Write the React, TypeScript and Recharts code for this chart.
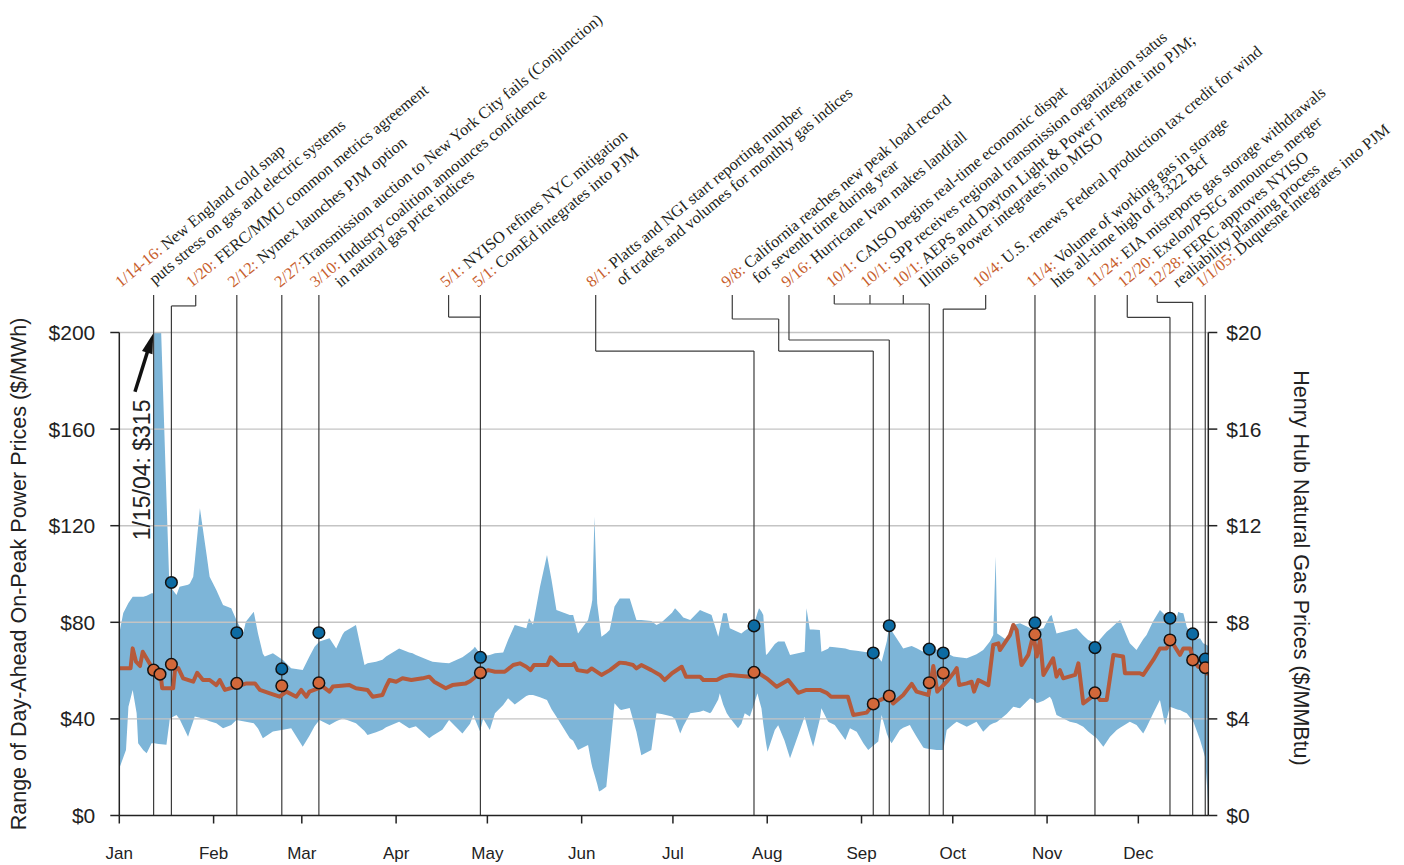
import React from 'react';
import {
  ComposedChart,
  Area,
  Line,
  Scatter,
  XAxis,
  YAxis,
  ReferenceLine,
  ReferenceDot,
} from 'recharts';

// ---------- axes ----------
const MONTHS = ['Jan', 'Feb', 'Mar', 'Apr', 'May', 'Jun', 'Jul', 'Aug', 'Sep', 'Oct', 'Nov', 'Dec'];
const MONTH_START_DAYS = [0, 31, 60, 91, 121, 152, 182, 213, 244, 274, 305, 335];
const POWER_TICKS = [0, 40, 80, 120, 160, 200];
const GAS_TICKS = [0, 4, 8, 12, 16, 20];

// ---------- range of day-ahead on-peak power prices ($/MWh), x = day of 2004 ----------
const BAND_DAYS = [
  0, 1.3, 2.2, 3, 4.4, 5.7, 6.2, 7.9, 9, 10.6, 11.3, 11.6, 12.4, 13, 15.5, 16.4, 16.6, 18.8, 19.8, 22.6,
  23.2, 24.3, 24.8, 26.5, 28.7, 29.7, 31.9, 34.1, 36.8, 38.5, 40.7, 41.6, 44.2, 45.6, 47.2, 47.8, 50.5, 53.8, 56.5, 60.3,
  62.5, 64.2, 65.8, 69.1, 71.3, 73.4, 74, 77.8, 80.6, 81.6, 84.4, 86.5, 87.7, 92, 95.3, 96.4, 97.5, 101.9, 103, 106.2,
  108.4, 112.8, 115.3, 116.4, 116.9, 118.6, 119.6, 121.8, 123.5, 126.2, 127.8, 130, 133.8, 134.7, 136, 138.3, 140.6, 142.1, 143.7, 148.1,
  149.2, 150.8, 154.1, 155.2, 155.5, 156.2, 157.1, 157.7, 158.5, 160.1, 161.2, 162.8, 164.5, 165, 167.8, 170, 171.6, 174.9, 176.6, 178.3,
  181.7, 182.7, 184.4, 185.4, 187.7, 190.9, 192, 194.2, 194.7, 196.9, 197.4, 198.5, 199.7, 200.7, 203.4, 204.5, 205.6, 207.3, 208.4, 209.8,
  210.3, 211.1, 211.7, 212.6, 213.1, 215.5, 216.6, 218.7, 220.5, 225.3, 225.9, 227, 228.1, 230.3, 230.8, 233, 233.5, 235.2, 238.7, 240.2,
  242.4, 244.6, 246.2, 247.9, 249.5, 250.6, 252.3, 253.1, 253.9, 256.6, 257.7, 259.9, 260.5, 262.1, 264.3, 264.9, 266.3, 268.7, 270.9, 272,
  274.2, 275.3, 278.6, 281.8, 284, 286.2, 287.3, 288.1, 288.6, 291.7, 293.9, 296.1, 299.4, 300.5, 301.6, 303.8, 305.9, 306.5, 308.1, 312.5,
  314.7, 316.9, 318.5, 321.3, 323.5, 324.6, 325.7, 327.9, 329, 332.2, 334.4, 336.6, 337.7, 339.9, 342.1, 343.8, 345.4, 347.6, 348.1, 348.7,
  349.8, 350.9, 353.1, 355.3, 356.3, 356.9, 357.7, 358,
];
const BAND_LOW = [
  19.5, 24, 27.1, 45, 52, 42.3, 29.9, 27, 25.8, 29.9, 29.9, 29.9, 29.7, 29.6, 29.3, 38, 40.2, 41.6, 40, 32.6,
  35, 39, 41, 40.5, 39.5, 39, 38.2, 36.1, 37.5, 39.5, 39, 38.8, 38.2, 36, 32, 32.5, 34.8, 35.5, 36.1, 28.5,
  33, 37, 39.5, 37.5, 39, 40.2, 40, 38.2, 35, 33.3, 34.5, 35.5, 36.5, 38.8, 36.1, 36.5, 37, 32, 33, 35.5,
  39.5, 34, 38, 41.6, 40, 34.8, 40.2, 35.4, 42.3, 45.8, 48.5, 46, 49.5, 49.9, 49.9, 49, 47.8, 44, 40.9, 32,
  31, 27.1, 29.2, 21.6, 20, 17, 13, 9.9, 10.5, 11.9, 25.8, 46.5, 44, 43.7, 44.5, 34.7, 25, 27.1, 42.3, 42,
  41, 40, 34, 37, 42.3, 43, 43.5, 42.3, 43, 48, 50.6, 46, 42.3, 40.5, 36.1, 38, 42.3, 41, 45, 50.6,
  48, 44.4, 38, 30, 26.4, 35.4, 37.4, 31, 23.7, 40.9, 38, 33, 28.5, 40, 44.4, 38.9, 38.5, 37.5, 31.3, 36.1,
  34.7, 29.9, 27.1, 29, 30.6, 41.6, 34, 31.5, 29.9, 35.4, 36.3, 37.5, 36, 32.6, 28.2, 27.8, 27.5, 27.1, 27.1, 35.4,
  37.8, 38.8, 36.8, 38.8, 34.7, 37.5, 38.2, 38.5, 38.8, 42, 45, 44.4, 48.5, 48, 46.5, 47.5, 49.2, 48, 41.6, 38.8,
  38.2, 36.8, 34.8, 32, 28.5, 30.5, 32.6, 35.4, 36.3, 38.8, 37.5, 34, 36.5, 42.3, 47.8, 37.5, 45, 44, 43.8, 43.7,
  43, 42.3, 38.8, 31.3, 27, 24.3, 10, 2,
];
const BAND_HIGH = [
  75.4, 83.8, 86, 88, 90.6, 90.6, 90.6, 90.6, 91, 92, 92, 315, 315, 230, 132, 97.5, 95, 91.3, 94.7, 95.5,
  96.1, 98.9, 105, 127.2, 108, 98.9, 93.4, 87.2, 85.8, 81, 75.4, 80.2, 84.4, 75.4, 67, 65.8, 67.2, 64.4, 61, 60.2,
  65.8, 69.9, 72, 73.4, 69.2, 75, 76.1, 78.9, 62.3, 63, 63.7, 64.5, 65.8, 69.2, 67.5, 67.2, 66.5, 64.2, 63.7, 63.2,
  63, 65.5, 67.8, 69, 69.9, 67, 66, 66.5, 67.2, 67.5, 72.7, 78.9, 77.5, 81.7, 79, 94.7, 107.9, 97.5, 85.1, 83,
  83, 75.4, 81, 87, 89.2, 123.7, 87.9, 82, 74, 75.5, 76.8, 86.5, 89.9, 89.9, 89.9, 81, 81, 80.5, 78.9, 80,
  84, 85.8, 83.5, 82, 81, 85.1, 84.5, 83.3, 83, 74, 77, 83.7, 83.7, 77.5, 76, 75.4, 76.5, 77.8, 78.2, 84,
  85.8, 84.5, 83, 66.5, 67, 71, 72, 72, 66.5, 67.8, 85.8, 77, 77, 76.8, 67.8, 69, 69.9, 69.7, 69.2, 68.5,
  68.2, 67.8, 67.5, 67.2, 65.5, 63.7, 72, 78.5, 76.5, 71.3, 69.2, 70, 70.2, 69.3, 67.8, 68.5, 69.9, 68.7, 67.8, 67.3,
  65.8, 65.6, 65.1, 66.8, 68.5, 72, 74.7, 107.2, 75.4, 72.7, 78.9, 79.6, 77.6, 76.8, 77, 77.5, 82.5, 83, 75.4, 76.8,
  77.5, 74.5, 72.7, 71.3, 74.5, 76.1, 77.2, 79.8, 81, 71.3, 68.5, 73, 74.7, 80.5, 85.1, 83, 81.7, 81.7, 84.4, 84,
  83.7, 78.2, 72.7, 73.4, 71.3, 71, 70.5, 70,
];

// ---------- Henry Hub natural gas price ($/MMBtu) ----------
const GAS_DAYS = [
  0, 3.7, 4.4, 5.5, 6.8, 7.7, 9, 10.6, 12.2, 13.8, 14.1, 17.7, 18.3, 19.4, 21, 24.3, 25.6, 27.5, 29.7, 31.9,
  33, 34.7, 38.5, 41.8, 44.6, 46.2, 49.5, 52.7, 54.9, 58.2, 59.8, 61.5, 62.5, 66.9, 69.1, 70.2, 75.7, 77.8, 81.6, 83.3,
  86.5, 87.7, 88.8, 91, 93.1, 96, 99.7, 101.9, 103.5, 107.3, 109.5, 113.9, 115.3, 118.6, 121.3, 123.5, 126.7, 129.5, 131.7, 133.8,
  135.2, 136.3, 140.7, 141.8, 144.5, 148.9, 149.5, 150.6, 153.9, 155.3, 158.5, 161.3, 164.5, 166.7, 168.9, 170, 171.6, 174.9, 177.7, 179.3,
  181.7, 184.9, 186.3, 190.9, 192, 196.4, 198.5, 200.7, 207.3, 210, 212.8, 216.1, 219.9, 223.2, 225.9, 230.3, 232.5, 234, 239.5, 241.3,
  245.7, 247.9, 250.1, 253.1, 254.4, 257.7, 260.5, 262.1, 266, 267.6, 268.9, 272, 274.2, 275.3, 276.1, 278.6, 280.2, 281, 282.4, 285.7,
  287.3, 289, 289.5, 292.8, 293.9, 295, 296.6, 298.8, 300.5, 301.6, 302.7, 303.8, 307, 308.1, 309.2, 310.3, 314.2, 315.3, 316.9, 319.1,
  320.7, 322.4, 324.6, 326.8, 330, 330.6, 335.5, 336.6, 339.9, 342.1, 344.3, 345.6, 347, 348.7, 349.8, 352, 353.1, 354.7, 357, 358,
];
const GAS_PRICE = [
  6.1, 6.1, 6.92, 6.37, 6.19, 6.78, 6.5, 6.16, 5.75, 5.61, 5.27, 5.27, 6.02, 6.1, 5.68, 5.54, 5.91, 5.61, 5.61, 5.4,
  5.61, 5.2, 5.34, 5.47, 5.47, 5.2, 5.06, 4.92, 5.13, 4.92, 5.2, 4.92, 5.13, 5.34, 5.13, 5.34, 5.4, 5.27, 5.2, 4.92,
  4.99, 5.34, 5.61, 5.54, 5.68, 5.61, 5.68, 5.75, 5.54, 5.27, 5.4, 5.47, 5.56, 5.89, 6.02, 5.95, 5.95, 6.23, 6.3, 6.16,
  6.02, 6.23, 6.23, 6.55, 6.23, 6.23, 6.3, 6.02, 5.95, 6.09, 5.82, 6.02, 6.33, 6.3, 6.23, 6.09, 6.23, 6.02, 5.82, 5.61,
  5.89, 6.16, 5.75, 5.75, 5.61, 5.61, 5.75, 5.82, 5.75, 5.91, 5.68, 5.33, 5.61, 5.08, 5.2, 5.2, 5.08, 4.92, 4.92, 4.16,
  4.26, 4.62, 4.78, 4.95, 4.64, 4.99, 5.45, 5.13, 4.99, 6.19, 5.13, 5.54, 5.89, 6.1, 5.4, 5.47, 5.54, 5.13, 5.61, 5.4,
  7.06, 7.13, 6.85, 7.47, 7.89, 7.68, 6.23, 6.65, 7.5, 6.58, 7.27, 5.82, 6.51, 5.75, 6.02, 5.68, 5.82, 6.3, 4.64, 4.85,
  5.08, 4.78, 4.78, 6.65, 6.58, 5.89, 5.89, 5.82, 6.44, 6.92, 6.92, 7.27, 6.99, 6.65, 6.92, 6.92, 6.44, 6.16, 6.1, 5.82,
];

// ---------- event markers ----------
const EVENT_DAYS = [11.28, 13.38, 17.13, 38.63, 53.42, 65.61, 118.71, 208.65, 247.86, 253.12, 266.27, 270.87, 301.02, 320.74, 345.4, 352.86, 357.0];
const EVENT_POWER = [null, null, 96.5, 75.7, 60.7, 75.7, 65.5, 78.5, 67.3, 78.6, 68.9, 67.3, 79.8, 69.5, 81.7, 75.2, 64.8];
const EVENT_GAS = [6.02, 5.85, 6.26, 5.47, 5.37, 5.49, 5.91, 5.93, 4.62, 4.95, 5.5, 5.9, 7.5, 5.08, 7.27, 6.44, 6.12];

// ---------- annotations (leader paths in day / $/MWh units) ----------
const LABEL_BASE = 218.4;
const LEADER_TOP = 215.5;
type Ann = {
  date: string;
  text: string;
  text2?: string;
  tx: number;
  sub?: [number, number];
  path: [number, number][];
};
const ANNOTATIONS: Ann[] = [
  { date: '1/14-16:', text: ' New England cold snap', text2: 'puts stress on gas and electric systems', tx: 0.46, sub: [34, -3], path: [[11.28, LEADER_TOP], [11.28, 0]] },
  { date: '1/20:', text: ' FERC/MMU common metrics agreement', tx: 23.7, path: [[25.12, LEADER_TOP], [25.12, 211], [17.13, 211], [17.13, 0]] },
  { date: '2/12:', text: ' Nymex launches PJM option', tx: 37.44, path: [[38.63, LEADER_TOP], [38.63, 0]] },
  { date: '2/27:', text: 'Transmission auction to New York City fails (Conjunction)', tx: 52.8, path: [[53.42, LEADER_TOP], [53.42, 0]] },
  { date: '3/10:', text: ' Industry coalition announces confidence', text2: 'in natural gas price indices', tx: 64.46, sub: [25, 0], path: [[65.61, LEADER_TOP], [65.61, 0]] },
  { date: '5/1:', text: ' NYISO refines NYC mitigation', tx: 107.3, path: [[108.25, LEADER_TOP], [108.25, 206.4], [118.71, 206.4]] },
  { date: '5/1:', text: ' ComEd integrates into PJM', tx: 117.88, path: [[118.71, LEADER_TOP], [118.71, 0]] },
  { date: '8/1:', text: ' Platts and NGI start reporting number', text2: 'of trades and volumes for monthly gas indices', tx: 155.29, sub: [30, -2], path: [[156.61, LEADER_TOP], [156.61, 192.3], [208.65, 192.3], [208.65, 0]] },
  { date: '9/8:', text: ' California reaches new peak load record', text2: 'for seventh time during year', tx: 199.67, sub: [31, -4], path: [[201.51, LEADER_TOP], [201.51, 205.6], [216.77, 205.6], [216.77, 192.3], [247.86, 192.3], [247.86, 0]] },
  { date: '9/16:', text: ' Hurricane Ivan makes landfall', tx: 219.4, path: [[220.15, LEADER_TOP], [220.15, 196.9], [253.12, 196.9], [253.12, 0]] },
  { date: '10/1:', text: ' CAISO begins real-time economic dispat', tx: 234.19, path: [[235.04, LEADER_TOP], [235.04, 211.8], [266.27, 211.8], [266.27, 0]] },
  { date: '10/1:', text: ' SPP receives regional transmission organization status', tx: 245.46, path: [[246.78, LEADER_TOP], [246.78, 211.8]] },
  { date: '10/1:', text: ' AEPS and Dayton Light & Power integrate into PJM;', text2: 'Illinois Power integrates into MISO', tx: 255.98, sub: [26, 0], path: [[257.73, LEADER_TOP], [257.73, 211.8]] },
  { date: '10/4:', text: ' U.S. renews Federal production tax credit for wind', tx: 282.38, path: [[284.81, LEADER_TOP], [284.81, 209.7], [270.87, 209.7], [270.87, 0]] },
  { date: '11/4:', text: ' Volume of working gas in storage', text2: 'hits all-time high of 3,322 Bcf', tx: 299.93, sub: [25, 0], path: [[301.02, LEADER_TOP], [301.02, 0]] },
  { date: '11/24:', text: ' EIA misreports gas storage withdrawals', tx: 319.66, path: [[320.74, LEADER_TOP], [320.74, 0]] },
  { date: '12/20:', text: ' Exelon/PSEG announces merger', tx: 330.05, path: [[331.36, LEADER_TOP], [331.36, 206.3], [345.4, 206.3], [345.4, 0]] },
  { date: '12/28:', text: ' FERC approves NYISO', text2: 'realiability planning process', tx: 339.9, sub: [25, 0], path: [[341.22, LEADER_TOP], [341.22, 212.5], [352.86, 212.5], [352.86, 0]] },
  { date: '1/1/05:', text: ' Duquesne integrates into PJM', tx: 355.59, path: [[357.0, LEADER_TOP], [357.0, 0]] },
];

const SPIKE_NOTE = '1/15/04: $315';

// ---------- styles ----------
const SANS = '"Liberation Sans", Arial, Helvetica, sans-serif';
const SERIF = '"Liberation Serif", "Times New Roman", serif';
const BAND_COLOR = '#7db5d8';
const GAS_LINE_COLOR = '#b65a3b';
const GAS_DOT_COLOR = '#d2683a';
const POWER_DOT_COLOR = '#0d6ba3';
const DATE_COLOR = '#c8602e';
const TEXT_COLOR = '#231f20';
const EVENT_LINE_COLOR = '#3c3c3c';
const ANGLE = -39.5;
const ANN_FONT = 16.3;

function AnnotationText({ cx, cy, a }: { cx: number; cy: number; a: Ann }) {
  return (
    <g>
      <text
        transform={`translate(${cx},${cy}) rotate(${ANGLE})`}
        fontFamily={SERIF}
        fontSize={ANN_FONT}
        style={{ whiteSpace: 'pre' }}
      >
        <tspan fill={DATE_COLOR}>{a.date}</tspan>
        <tspan fill={TEXT_COLOR}>{a.text}</tspan>
      </text>
      {a.text2 && a.sub ? (
        <text
          transform={`translate(${cx + a.sub[0]},${cy + a.sub[1]}) rotate(${ANGLE})`}
          fontFamily={SERIF}
          fontSize={ANN_FONT}
          fill={TEXT_COLOR}
        >
          {a.text2}
        </text>
      ) : null}
    </g>
  );
}

function ArrowShape(props: any) {
  const { x1, y1, x2, y2 } = props;
  const dx = x2 - x1;
  const dy = y2 - y1;
  const len = Math.sqrt(dx * dx + dy * dy) || 1;
  const ux = dx / len;
  const uy = dy / len;
  const head = 20;
  const half = 5.5;
  const bx = x2 - ux * head;
  const by = y2 - uy * head;
  const px = -uy;
  const py = ux;
  return (
    <g>
      <line x1={x1} y1={y1} x2={bx + ux * 2} y2={by + uy * 2} stroke="#111" strokeWidth={3.5} />
      <polygon
        points={`${x2},${y2} ${bx + px * half},${by + py * half} ${bx - px * half},${by - py * half}`}
        fill="#111"
      />
    </g>
  );
}

export default function App() {
  const band = BAND_DAYS.map((d, i) => ({ d, range: [BAND_LOW[i], BAND_HIGH[i]] }));
  const gas = GAS_DAYS.map((d, i) => ({ d, gas: GAS_PRICE[i] }));
  const powerDots = EVENT_DAYS.map((d, i) => ({ d, v: EVENT_POWER[i] })).filter((p) => p.v !== null);
  const gasDots = EVENT_DAYS.map((d, i) => ({ d, g: EVENT_GAS[i] }));

  const segments: { key: string; a: [number, number]; b: [number, number] }[] = [];
  ANNOTATIONS.forEach((ann, i) => {
    for (let k = 0; k < ann.path.length - 1; k++) {
      segments.push({ key: `seg-${i}-${k}`, a: ann.path[k], b: ann.path[k + 1] });
    }
  });

  const tickStyle = { fill: '#222', fontSize: 21, fontFamily: SANS };
  const axisLineStyle = { stroke: '#222', strokeWidth: 1.5 };

  return (
    <div style={{ width: 1396, height: 857 }}>
      <ComposedChart
        width={1396}
        height={857}
        margin={{ top: 324.5, right: 95.7, bottom: 9.5, left: 11.3 }}
      >
        <XAxis
          type="number"
          dataKey="d"
          domain={[0, 358]}
          allowDataOverflow
          ticks={MONTH_START_DAYS}
          interval={0}
          tickFormatter={(v: number) => MONTHS[MONTH_START_DAYS.indexOf(v)] ?? ''}
          height={40}
          tickSize={8}
          tickMargin={23}
          axisLine={axisLineStyle}
          tickLine={axisLineStyle}
          tick={{ fill: '#222', fontSize: 17, fontFamily: SANS }}
        />
        <YAxis
          yAxisId="left"
          orientation="left"
          domain={[0, 200]}
          allowDataOverflow
          ticks={POWER_TICKS}
          interval={0}
          width={100}
          tickSize={9}
          tickMargin={15}
          tickFormatter={(v: number) => `$${v}`}
          axisLine={axisLineStyle}
          tickLine={axisLineStyle}
          tick={tickStyle}
          label={(props: any) => {
            const vb = props.viewBox || { x: 11.3, y: 324.5, width: 100, height: 483 };
            const x = vb.x - 0.5;
            const y = vb.y + vb.height / 2;
            return (
              <text
                x={x}
                y={y}
                transform={`rotate(-90, ${x}, ${y})`}
                textAnchor="middle"
                dominantBaseline="central"
                fontFamily={SANS}
                fontSize={21.5}
                fill="#222"
              >
                Range of Day-Ahead On-Peak Power Prices ($/MWh)
              </text>
            );
          }}
        />
        <YAxis
          yAxisId="right"
          orientation="right"
          domain={[0, 20]}
          allowDataOverflow
          ticks={GAS_TICKS}
          interval={0}
          width={100}
          tickSize={9}
          tickMargin={9}
          tickFormatter={(v: number) => `$${v}`}
          axisLine={axisLineStyle}
          tickLine={axisLineStyle}
          tick={tickStyle}
          label={(props: any) => {
            const vb = props.viewBox || { x: 1200.3, y: 324.5, width: 100, height: 483 };
            const x = vb.x + 93;
            const y = vb.y + vb.height / 2 - 6;
            return (
              <text
                x={x}
                y={y}
                transform={`rotate(90, ${x}, ${y})`}
                textAnchor="middle"
                dominantBaseline="central"
                fontFamily={SANS}
                fontSize={21.5}
                fill="#222"
              >
                Henry Hub Natural  Gas Prices ($/MMBtu)
              </text>
            );
          }}
        />

        <Area
          yAxisId="left"
          data={band}
          dataKey="range"
          type="linear"
          stroke="none"
          fill={BAND_COLOR}
          fillOpacity={1}
          isAnimationActive={false}
          dot={false}
          activeDot={false}
        />

        {POWER_TICKS.filter((t) => t > 0).map((t) => (
          <ReferenceLine key={`grid-${t}`} yAxisId="left" y={t} stroke="#c4c4c4" strokeWidth={1.4} />
        ))}

        {segments.map((s) => (
          <ReferenceLine
            key={s.key}
            yAxisId="left"
            ifOverflow="visible"
            segment={[
              { x: s.a[0], y: s.a[1] },
              { x: s.b[0], y: s.b[1] },
            ]}
            stroke={EVENT_LINE_COLOR}
            strokeWidth={1.2}
          />
        ))}

        <Line
          yAxisId="right"
          data={gas}
          dataKey="gas"
          type="linear"
          stroke={GAS_LINE_COLOR}
          strokeWidth={4}
          strokeLinejoin="round"
          dot={false}
          activeDot={false}
          isAnimationActive={false}
        />

        <Scatter
          yAxisId="left"
          data={powerDots}
          dataKey="v"
          isAnimationActive={false}
          shape={(p: any) => (
            <circle cx={p.cx} cy={p.cy} r={5.8} fill={POWER_DOT_COLOR} stroke="#111" strokeWidth={1.5} />
          )}
        />
        <Scatter
          yAxisId="right"
          data={gasDots}
          dataKey="g"
          isAnimationActive={false}
          shape={(p: any) => (
            <circle cx={p.cx} cy={p.cy} r={5.8} fill={GAS_DOT_COLOR} stroke="#111" strokeWidth={1.5} />
          )}
        />

        <ReferenceLine
          yAxisId="left"
          ifOverflow="visible"
          segment={[
            { x: 5.15, y: 175.5 },
            { x: 11.15, y: 199.6 },
          ]}
          shape={(p: any) => <ArrowShape {...p} />}
        />
        <ReferenceDot
          yAxisId="left"
          x={7.35}
          y={143.1}
          r={1}
          ifOverflow="visible"
          shape={(p: any) => (
            <text
              x={p.cx}
              y={p.cy}
              transform={`rotate(-90, ${p.cx}, ${p.cy})`}
              textAnchor="middle"
              dominantBaseline="central"
              fontFamily={SANS}
              fontSize={23}
              fill="#222"
            >
              {SPIKE_NOTE}
            </text>
          )}
        />

        {ANNOTATIONS.map((a, i) => (
          <ReferenceDot
            key={`ann-${i}`}
            yAxisId="left"
            x={a.tx}
            y={LABEL_BASE}
            r={1}
            ifOverflow="visible"
            shape={(p: any) => <AnnotationText cx={p.cx} cy={p.cy} a={a} />}
          />
        ))}
      </ComposedChart>
    </div>
  );
}
